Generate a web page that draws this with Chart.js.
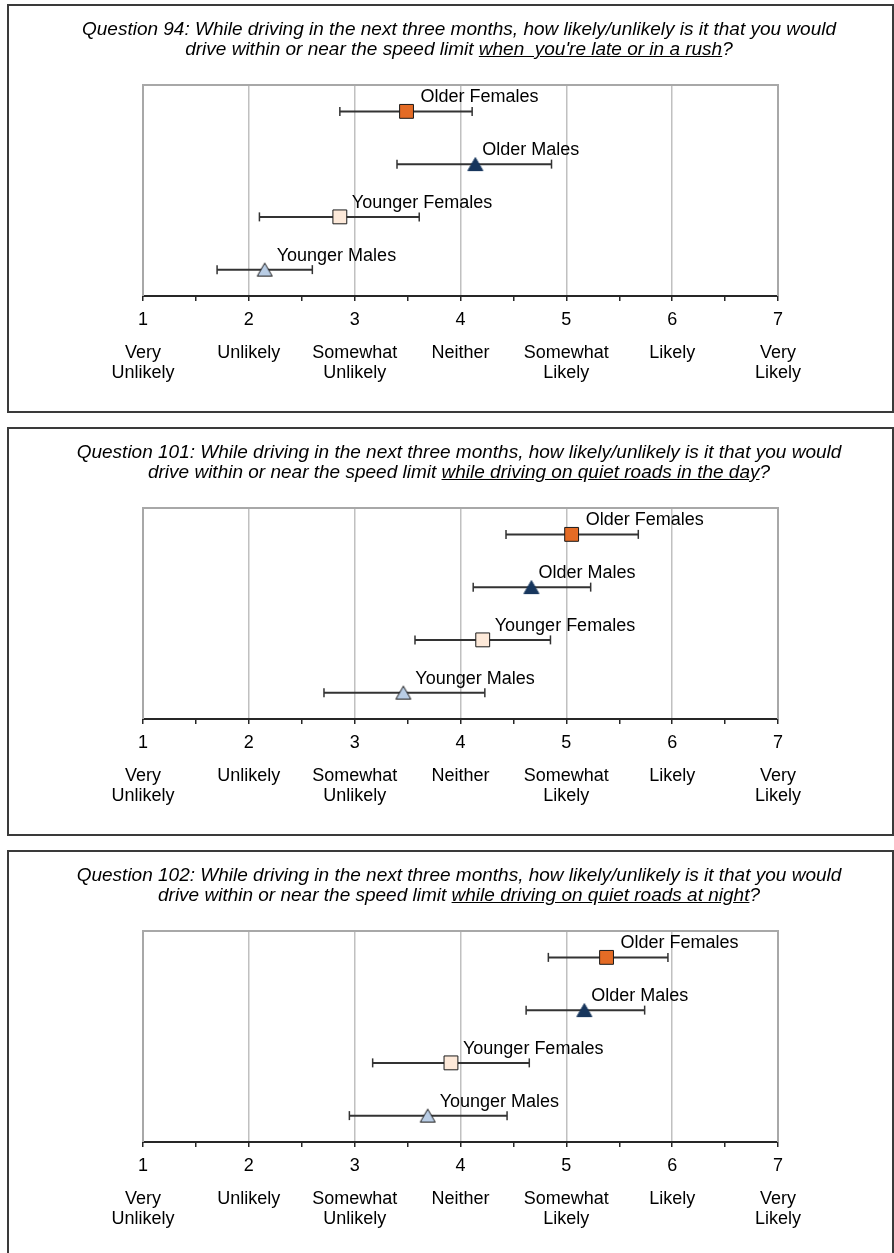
<!DOCTYPE html>
<html>
<head>
<meta charset="utf-8">
<script src="https://cdn.jsdelivr.net/npm/chart.js@4.4.1/dist/chart.umd.min.js"></script>
<style>
  html, body { margin: 0; padding: 0; background: #fff; }
  body { width: 894px; height: 1253px; overflow: hidden; position: relative;
         font-family: "Liberation Sans", Arial, sans-serif; color: #000; }
  .panel { position: absolute; left: 7px; width: 887px; height: 409px;
           border: 2px solid #3a3a3a; box-sizing: border-box; }
  .title { position: absolute; left: 9px; width: 900px; text-align: center;
           font-style: italic; font-size: 19px; line-height: 20px; white-space: nowrap; }
  canvas { position: absolute; left: 0; }
</style>
</head>
<body>

<div class="panel" style="top:4px"></div>
<canvas id="q94" width="894" height="407" style="top:5px"></canvas>
<div class="title" style="top:19px">Question 94: While driving in the next three months, how likely/unlikely is it that you would<br>drive within or near the speed limit <u>when&nbsp; you're late or in a rush</u>?</div>

<div class="panel" style="top:427px"></div>
<canvas id="q101" width="894" height="407" style="top:428px"></canvas>
<div class="title" style="top:442px">Question 101: While driving in the next three months, how likely/unlikely is it that you would<br>drive within or near the speed limit <u>while driving on quiet roads in the day</u>?</div>

<div class="panel" style="top:850px"></div>
<canvas id="q102" width="894" height="407" style="top:851px"></canvas>
<div class="title" style="top:865px">Question 102: While driving in the next three months, how likely/unlikely is it that you would<br>drive within or near the speed limit <u>while driving on quiet roads at night</u>?</div>

<script>
// Driver groups, top row to bottom row
const groups = ['Older Females', 'Older Males', 'Younger Females', 'Younger Males'];

// Q94: when late or in a rush
const q94Mean = [3.49, 4.14, 2.86, 2.15];
const q94Low  = [2.86, 3.40, 2.10, 1.70];
const q94High = [4.11, 4.86, 3.61, 2.60];

// Q101: quiet roads in the day
const q101Mean = [5.05, 4.67, 4.21, 3.46];
const q101Low  = [4.43, 4.12, 3.57, 2.71];
const q101High = [5.68, 5.23, 4.85, 4.23];

// Q102: quiet roads at night
const q102Mean = [5.38, 5.17, 3.91, 3.69];
const q102Low  = [4.83, 4.62, 3.17, 2.95];
const q102High = [5.96, 5.74, 4.65, 4.44];

// Response scale wording under the numbers 1..7
const scaleWords = [
  ['Very', 'Unlikely'], ['Unlikely'], ['Somewhat', 'Unlikely'], ['Neither'],
  ['Somewhat', 'Likely'], ['Likely'], ['Very', 'Likely']
];

const FONT = '"Liberation Sans", Arial, sans-serif';

// Upward triangle marker whose bounding box is centred on the data point
function triangleMarker(fill, edge) {
  const c = document.createElement('canvas');
  c.width = 18; c.height = 18;
  const g = c.getContext('2d');
  g.beginPath();
  g.moveTo(9, 2.5);
  g.lineTo(16.5, 15.5);
  g.lineTo(1.5, 15.5);
  g.closePath();
  g.fillStyle = fill;
  g.fill();
  g.lineWidth = 1;
  g.strokeStyle = edge;
  g.stroke();
  return c;
}

// Marker look for each group
const groupStyle = [
  { shape: 'rect', radius: 9.8, fill: '#e46b25', edge: '#1a1a1a', tagDx: 14 },
  { shape: triangleMarker('#17365d', '#17365d'), radius: 9, fill: '#17365d', edge: '#17365d', tagDx: 7 },
  { shape: 'rect', radius: 9.8, fill: '#fde9d9', edge: '#1a1a1a', tagDx: 12 },
  { shape: triangleMarker('#b9cde5', '#1a1a1a'), radius: 9, fill: '#b9cde5', edge: '#1a1a1a', tagDx: 12 }
];

// Light grey frame on the left, top and right of the plot area
const plotFrame = {
  id: 'plotFrame',
  beforeDatasetsDraw(chart) {
    const { left, top, right, bottom } = chart.chartArea;
    const ctx = chart.ctx;
    ctx.save();
    ctx.strokeStyle = '#a8a8a8';
    ctx.lineWidth = 2;
    ctx.beginPath();
    ctx.moveTo(left, bottom);
    ctx.lineTo(left, top);
    ctx.lineTo(right, top);
    ctx.lineTo(right, bottom);
    ctx.stroke();
    ctx.restore();
  }
};

// Group name written above-right of each marker
const groupTags = {
  id: 'groupTags',
  afterDatasetsDraw(chart) {
    const ctx = chart.ctx;
    ctx.save();
    ctx.font = '18px ' + FONT;
    ctx.fillStyle = '#000';
    ctx.textAlign = 'left';
    ctx.textBaseline = 'middle';
    chart.data.datasets.forEach((ds, i) => {
      if (ds.tagDx === undefined) return;
      const pt = chart.getDatasetMeta(i).data[0];
      ctx.fillText(ds.label, pt.x + ds.tagDx, pt.y - 14);
    });
    ctx.restore();
  }
};

function buildPanel(id, mean, low, high) {
  const markers = groups.map((g, i) => ({
    label: g,
    data: [{ x: mean[i], y: g }],
    pointStyle: groupStyle[i].shape,
    pointRadius: groupStyle[i].radius,
    pointBackgroundColor: groupStyle[i].fill,
    pointBorderColor: groupStyle[i].edge,
    pointBorderWidth: 1,
    tagDx: groupStyle[i].tagDx,
    order: 0
  }));
  const ranges = groups.map((g, i) => ({
    label: g + ' range',
    data: [{ x: low[i], y: g }, { x: high[i], y: g }],
    showLine: true,
    borderColor: '#333333',
    borderWidth: 2,
    pointStyle: 'line',
    pointRadius: 4.5,
    pointRotation: 90,
    pointBorderColor: '#333333',
    pointBorderWidth: 1.5,
    order: 1
  }));

  new Chart(document.getElementById(id), {
    type: 'scatter',
    data: { datasets: markers.concat(ranges) },
    options: {
      responsive: false,
      animation: false,
      events: [],
      devicePixelRatio: 1,
      layout: { padding: { left: 143, right: 116, top: 80, bottom: 12 } },
      plugins: { legend: { display: false }, tooltip: { enabled: false }, title: { display: false } },
      scales: {
        y: { type: 'category', labels: groups, offset: true, display: false },
        x: {
          type: 'linear', position: 'bottom', min: 1, max: 7,
          ticks: {
            stepSize: 0.5, autoSkip: false, maxRotation: 0, padding: 8, color: '#000',
            font: { family: FONT, size: 18, lineHeight: 1.2 },
            callback: v => Number.isInteger(v) ? String(v) : ''
          },
          grid: {
            color: c => (c.tick && Number.isInteger(c.tick.value)) ? '#c0c0c0' : 'rgba(0,0,0,0)',
            lineWidth: 1.5, tickColor: '#262626', tickLength: 5, tickWidth: 1.5
          },
          border: { color: '#262626', width: 2 },
          afterFit: s => { s.height = 34; }
        },
        words: {
          type: 'linear', position: 'bottom', min: 1, max: 7,
          ticks: {
            stepSize: 1, autoSkip: false, maxRotation: 0, padding: 13, color: '#000',
            font: { family: FONT, size: 18, lineHeight: 1.11 },
            callback: v => scaleWords[Math.round(v) - 1]
          },
          grid: { display: false, drawTicks: false },
          border: { display: false },
          afterFit: s => { s.height = 70; }
        }
      }
    },
    plugins: [plotFrame, groupTags]
  });
}

buildPanel('q94', q94Mean, q94Low, q94High);
buildPanel('q101', q101Mean, q101Low, q101High);
buildPanel('q102', q102Mean, q102Low, q102High);
</script>
</body>
</html>
